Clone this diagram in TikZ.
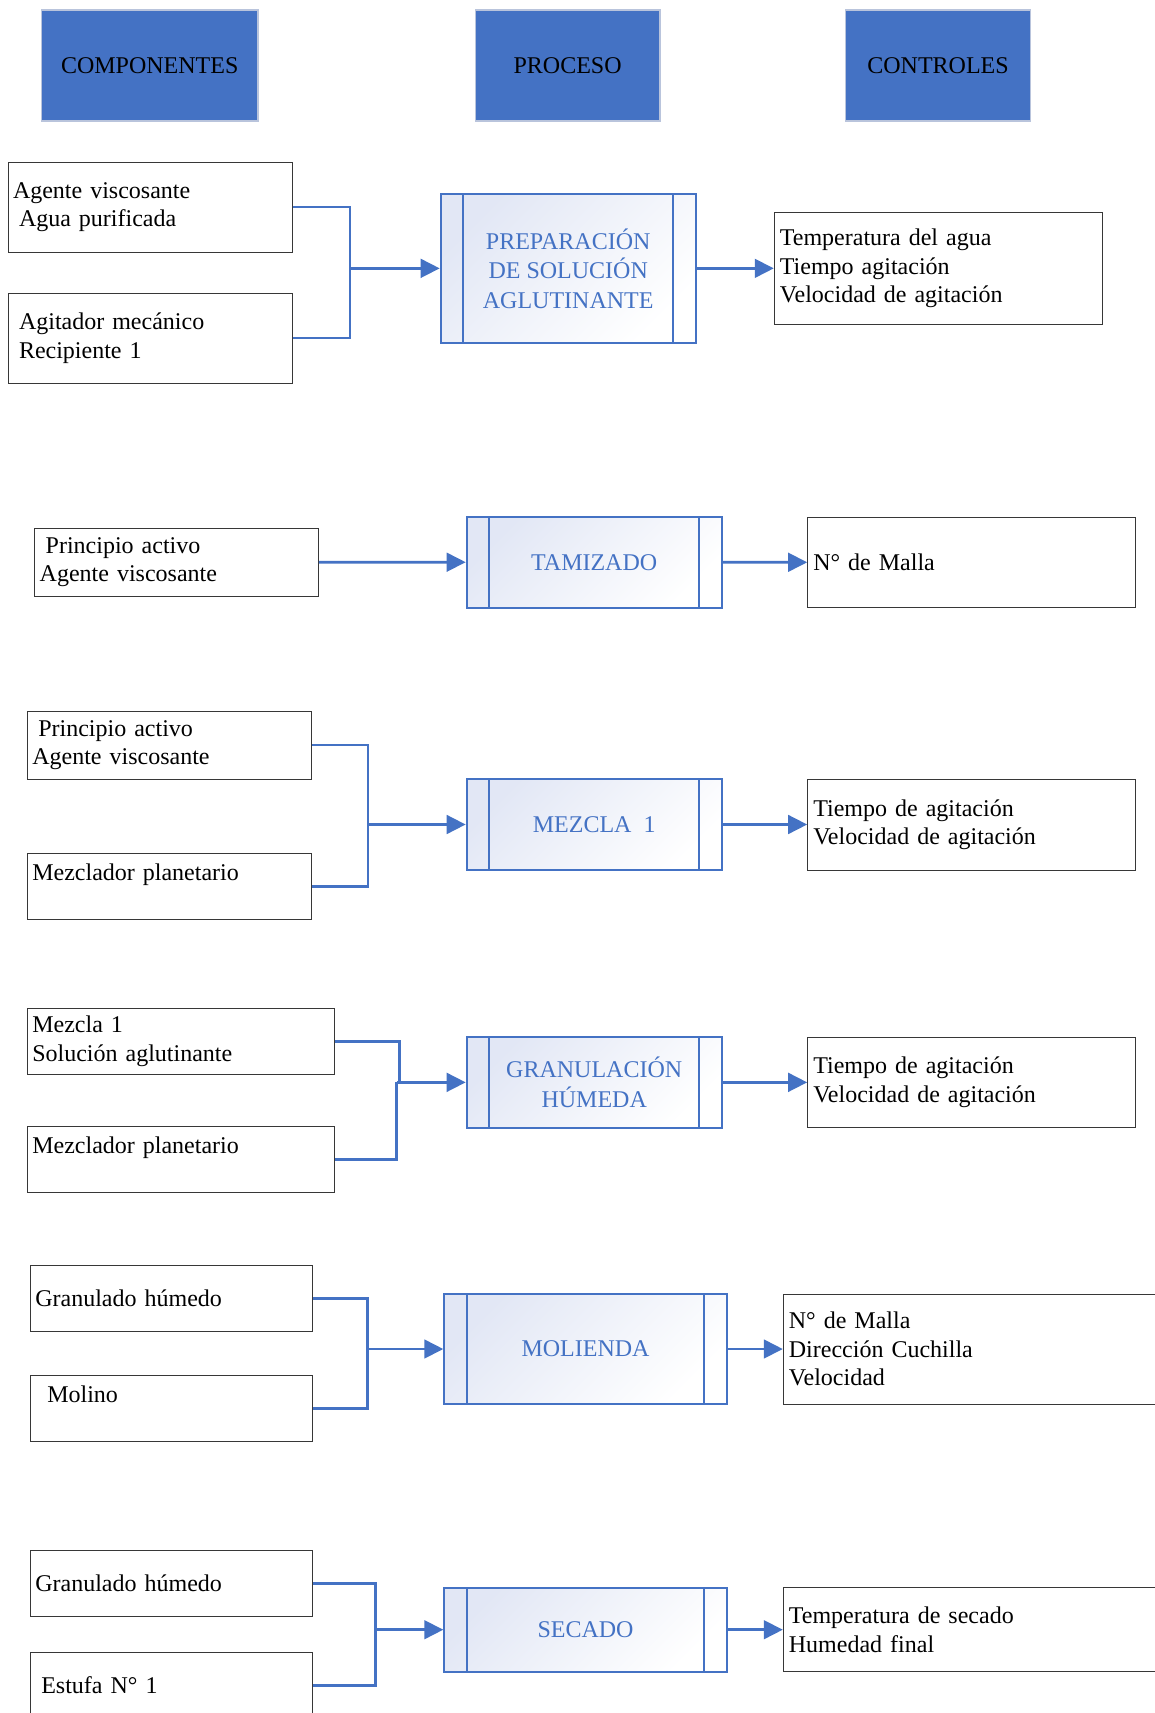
\documentclass[tikz,border=0pt]{standalone}
\usepackage{fontspec}
\setmainfont{Liberation Serif}
\usetikzlibrary{arrows.meta}
\definecolor{hblue}{RGB}{68,114,196}
\definecolor{hedge}{RGB}{185,196,220}
\definecolor{shadeA}{RGB}{226,231,245}
\definecolor{boxline}{RGB}{55,55,55}
\begin{document}
\begin{tikzpicture}[x=0.5pt,y=-0.5pt,
  hdr/.style={rectangle, fill=hblue, draw=hedge, line width=0.6pt, minimum height=55.5pt, inner sep=0pt, font=\fontsize{12pt}{14pt}\selectfont, text=black},
  lbox/.style={rectangle, draw=boxline, line width=0.5pt, inner xsep=2.5pt, inner ysep=0pt, align=left, font=\fontsize{12pt}{14.25pt}\selectfont},
  cbox/.style={lbox, inner xsep=2.8pt},
  proc/.style={rectangle, draw=hblue, line width=1pt, top color=shadeA, bottom color=white, shading angle=45, text=hblue, align=center, inner sep=0pt, font=\fontsize{12pt}{14.75pt}\selectfont,
    path picture={\draw[hblue, line width=1pt]
      ([xshift=11.25pt]path picture bounding box.north west) -- ([xshift=11.25pt]path picture bounding box.south west)
      ([xshift=-11.25pt]path picture bounding box.north east) -- ([xshift=-11.25pt]path picture bounding box.south east);}},
  conn/.style={draw=hblue, line width=1.4pt},
  arr/.style={conn, -{Triangle[length=9.5pt,width=9.3pt]}}
]
\clip (0,0) rectangle (1155,1713);
\fill[white] (0,0) rectangle (1155,1713);

% headers
\node[hdr, minimum width=108.25pt] (h1) at (149.75,65.5) {COMPONENTES};
\node[hdr, minimum width=92.35pt] (h2) at (567.65,65.5) {PROCESO};
\node[hdr, minimum width=92.35pt] (h3) at (938.05,65.5) {CONTROLES};

% row 1
\node[lbox, text width=137pt, minimum height=45pt] (a1) at (150,207) {Agente viscosante\\\hspace*{3pt}Agua purificada};
\node[lbox, text width=137pt, minimum height=45pt] (a2) at (150,338) {\hspace*{3pt}Agitador mecánico\\\hspace*{3pt}Recipiente 1};
\node[proc, minimum width=127.5pt, minimum height=74.35pt] (p1) at (568.2,268.35) {PREPARACIÓN\\DE SOLUCIÓN\\AGLUTINANTE};
\node[cbox, text width=158.5pt, minimum height=55.65pt] (c1) at (938.4,268.35) {Temperatura del agua\\Tiempo agitación\\Velocidad de agitación};
\coordinate (j1) at (350,268.35);
\draw[conn] (a1.east) -| (j1);
\draw[conn] (a2.east) -| (j1);
\draw[arr] (j1) -- (p1.west);
\draw[arr] (p1.east) -- (c1.west);

% row 2
\node[lbox, text width=136.8pt, minimum height=34pt] (a3) at (176.5,562.3) {\hspace*{3pt}Principio activo\\Agente viscosante};
\node[proc, minimum width=127.5pt, minimum height=45.5pt] (p2) at (594.2,562.2) {TAMIZADO};
\node[cbox, text width=158.2pt, minimum height=45pt] (c2) at (971.5,562.3) {N° de Malla};
\draw[arr] (a3.east) -- (p2.west);
\draw[arr] (p2.east) -- (c2.west);

% row 3
\node[lbox, text width=137pt, minimum height=34pt] (a4) at (169.3,745) {\hspace*{3pt}Principio activo\\Agente viscosante};
\node[lbox, text width=137pt, minimum height=33.2pt] (a5) at (169.3,886.5) {Mezclador planetario\\\mbox{}};
\node[proc, minimum width=127.5pt, minimum height=45.5pt] (p3) at (594.2,824.5) {MEZCLA\ \ 1};
\node[cbox, text width=158.2pt, minimum height=45.5pt] (c3) at (971.5,824.5) {Tiempo de agitación\\Velocidad de agitación};
\coordinate (j3) at (368,824.5);
\draw[conn] (a4.east) -| (j3);
\draw[conn] (a5.east) -| (j3);
\draw[arr] (j3) -- (p3.west);
\draw[arr] (p3.east) -- (c3.west);

% row 4
\node[lbox, text width=148.35pt, minimum height=33.2pt] (a6) at (180.65,1041.5) {Mezcla 1\\Solución aglutinante};
\node[lbox, text width=148.35pt, minimum height=33pt] (a7) at (180.65,1159.7) {Mezclador planetario\\\mbox{}};
\node[proc, minimum width=127.5pt, minimum height=45.35pt] (p4) at (594.2,1082.35) {GRANULACIÓN\\HÚMEDA};
\node[cbox, text width=158.2pt, minimum height=45.35pt] (c4) at (971.5,1082.35) {Tiempo de agitación\\Velocidad de agitación};
\coordinate (j4a) at (399.3,1082.35);
\coordinate (j4b) at (396.7,1082.35);
\draw[conn] (a6.east) -| (j4a);
\draw[conn] (a7.east) -| (j4b);
\draw[arr] (j4b) -- (p4.west);
\draw[arr] (p4.east) -- (c4.west);

% row 5
\node[lbox, text width=136pt, minimum height=32.85pt] (a8) at (171.3,1298.2) {Granulado húmedo};
\node[lbox, text width=136pt, minimum height=32.85pt] (a9) at (171.3,1408.2) {\hspace*{6pt}Molino\\\mbox{}};
\node[proc, minimum width=141.2pt, minimum height=55pt] (p5) at (585.5,1349) {MOLIENDA};
\node[cbox, text width=187.75pt, minimum height=55pt] (c5) at (976.65,1349) {N° de Malla\\Dirección Cuchilla\\Velocidad};
\coordinate (j5) at (367.7,1349);
\draw[conn] (a8.east) -| (j5);
\draw[conn] (a9.east) -| (j5);
\draw[arr] (j5) -- (p5.west);
\draw[arr] (p5.east) -- (c5.west);

% row 6
\node[lbox, text width=136pt, minimum height=33pt] (a10) at (171.3,1583.7) {Granulado húmedo};
\node[lbox, text width=136pt, minimum height=33pt] (a11) at (171.3,1685.3) {\hspace*{3pt}Estufa N° 1};
\node[proc, minimum width=141.2pt, minimum height=42pt] (p6) at (585.5,1629.7) {SECADO};
\node[cbox, text width=187.75pt, minimum height=42pt] (c6) at (976.65,1629.7) {Temperatura de secado\\Humedad final};
\coordinate (j6) at (375.7,1629.7);
\draw[conn] (a10.east) -| (j6);
\draw[conn] (a11.east) -| (j6);
\draw[arr] (j6) -- (p6.west);
\draw[arr] (p6.east) -- (c6.west);
\end{tikzpicture}
\end{document}
